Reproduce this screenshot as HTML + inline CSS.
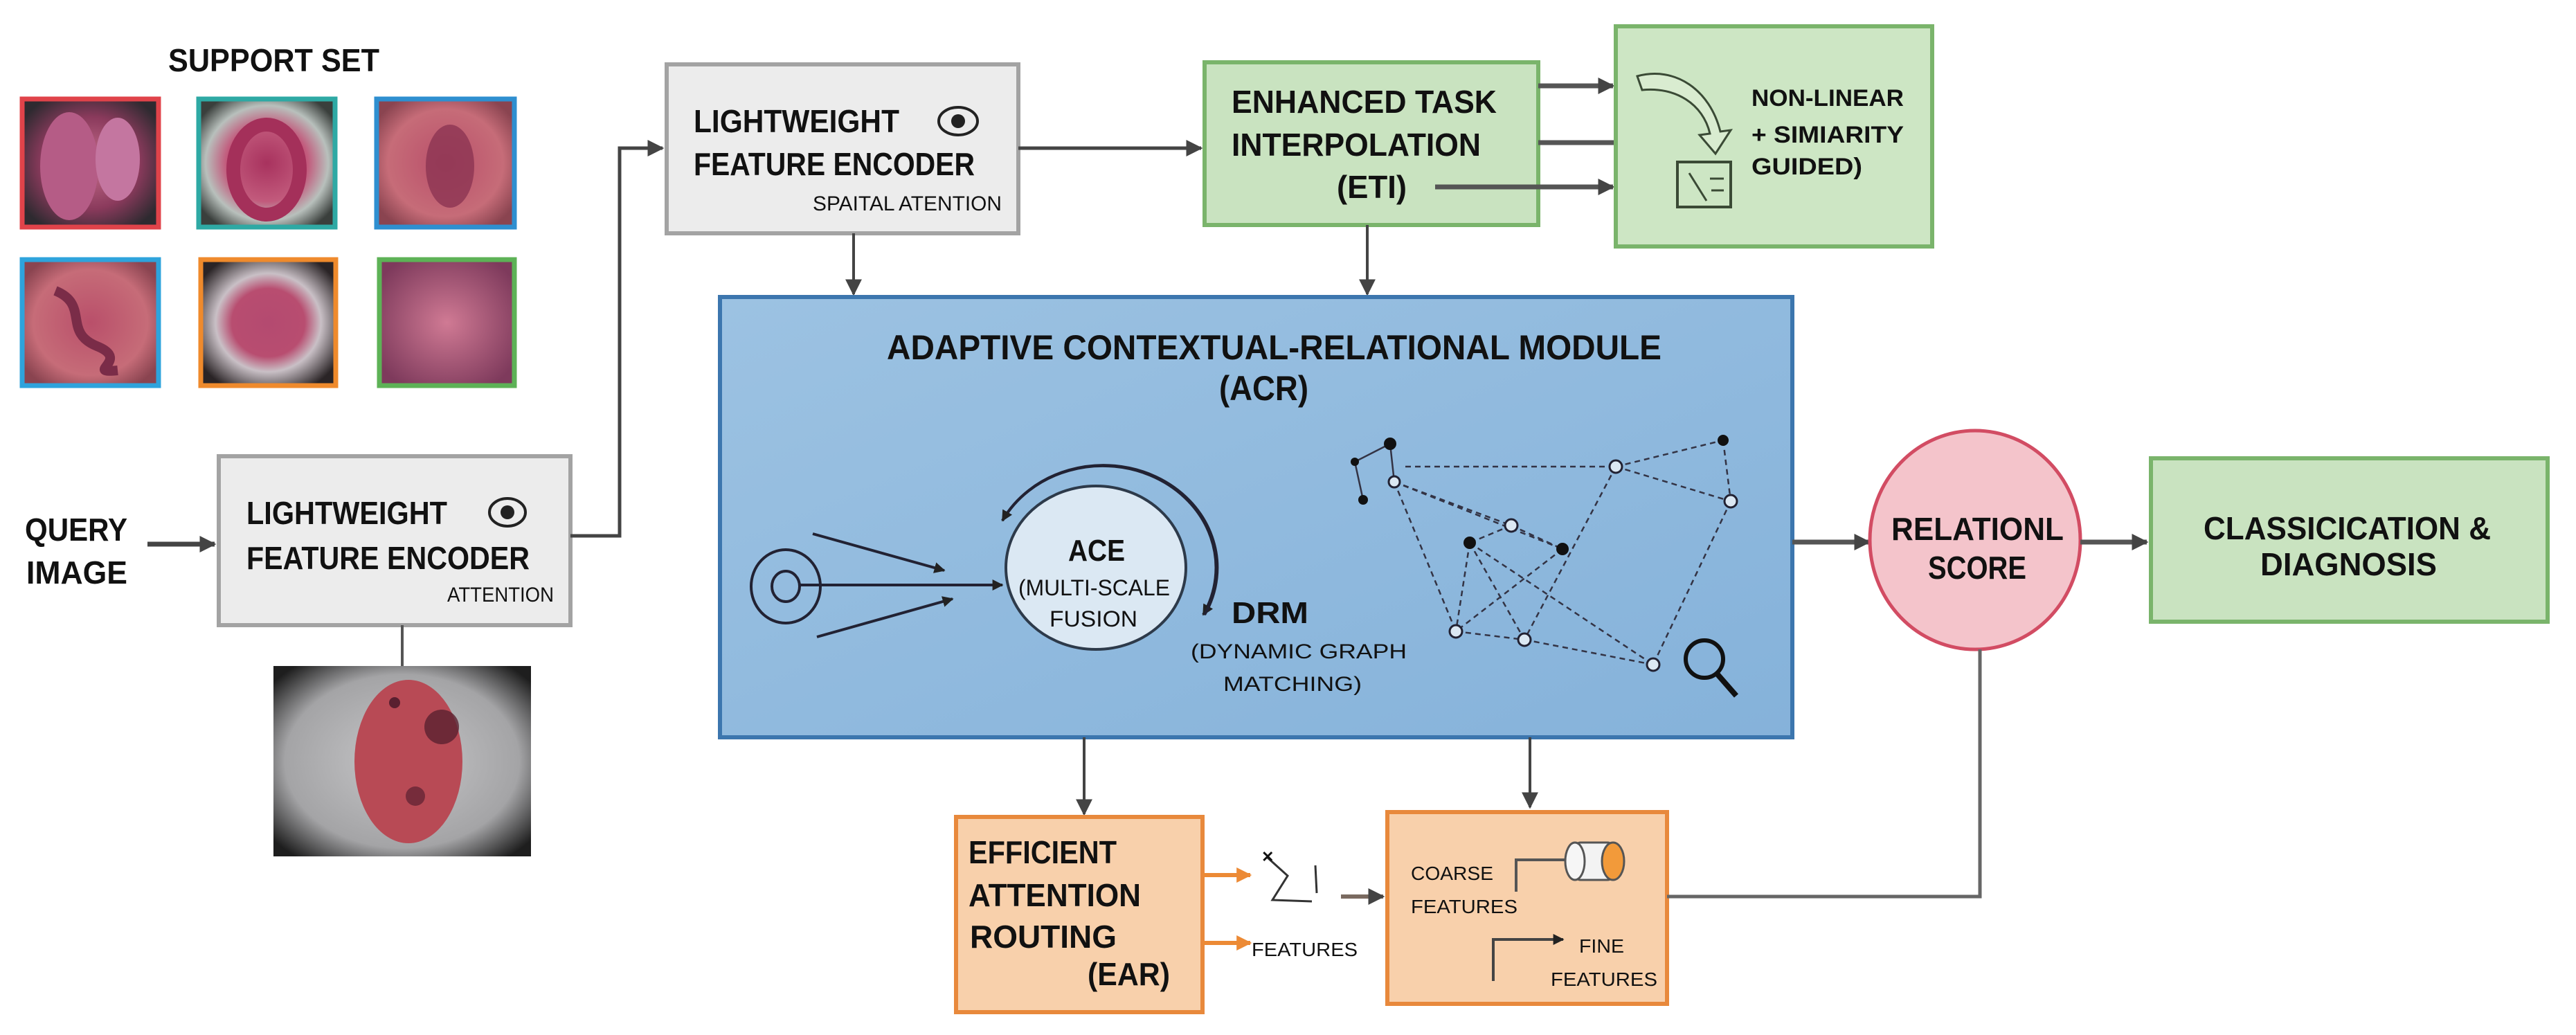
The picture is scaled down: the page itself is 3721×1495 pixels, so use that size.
<!DOCTYPE html>
<html><head><meta charset="utf-8"><style>html,body{margin:0;padding:0;background:#fff}svg{display:block}text{font-family:"Liberation Sans",sans-serif;fill:#111}</style></head><body>
<svg width="3721" height="1495" viewBox="0 0 3721 1495" xmlns="http://www.w3.org/2000/svg">
<defs>
<marker id="ah" viewBox="0 0 10 10" refX="9" refY="5" markerWidth="7" markerHeight="7" markerUnits="userSpaceOnUse" orient="auto"><path d="M0,0L10,5L0,10z" fill="#444"/></marker>
<marker id="a" viewBox="0 0 10 10" refX="9" refY="5" markerWidth="24" markerHeight="28" markerUnits="userSpaceOnUse" orient="auto"><path d="M0,0L10,5L0,10z" fill="#444"/></marker>
<marker id="as" viewBox="0 0 10 10" refX="9" refY="5" markerWidth="16" markerHeight="18" markerUnits="userSpaceOnUse" orient="auto"><path d="M0,0L10,5L0,10z" fill="#222"/></marker>
<marker id="ao" viewBox="0 0 10 10" refX="9" refY="5" markerWidth="22" markerHeight="26" markerUnits="userSpaceOnUse" orient="auto"><path d="M0,0L10,5L0,10z" fill="#ec8a35"/></marker>
<radialGradient id="t1" cx="50%" cy="50%" r="60%"><stop offset="0" stop-color="#c9708e"/><stop offset=".6" stop-color="#8a3a5c"/><stop offset="1" stop-color="#2e2a30"/></radialGradient>
<radialGradient id="t2" cx="50%" cy="50%" r="60%"><stop offset="0" stop-color="#a8325e"/><stop offset=".5" stop-color="#c25a7c"/><stop offset=".75" stop-color="#b8c0bc"/><stop offset="1" stop-color="#3a3f3c"/></radialGradient>
<radialGradient id="t3" cx="50%" cy="50%" r="60%"><stop offset="0" stop-color="#b94f6a"/><stop offset=".7" stop-color="#c66c78"/><stop offset="1" stop-color="#8a4450"/></radialGradient>
<radialGradient id="t5" cx="50%" cy="50%" r="60%"><stop offset="0" stop-color="#b44a70"/><stop offset=".45" stop-color="#b84d70"/><stop offset=".65" stop-color="#c9c0c6"/><stop offset="1" stop-color="#2a2426"/></radialGradient>
<radialGradient id="t6" cx="50%" cy="50%" r="60%"><stop offset="0" stop-color="#d07a94"/><stop offset="1" stop-color="#7e3a5c"/></radialGradient>
<radialGradient id="q" cx="50%" cy="50%" r="65%"><stop offset="0" stop-color="#c6c6c8"/><stop offset=".7" stop-color="#a4a4a6"/><stop offset="1" stop-color="#1e1e1e"/></radialGradient>
<linearGradient id="bl" x1="0" y1="0" x2="1" y2="1"><stop offset="0" stop-color="#9cc2e2"/><stop offset="1" stop-color="#85b2da"/></linearGradient>
</defs>

<!-- support set -->
<text x="243" y="103" font-size="46" font-weight="bold" textLength="305" lengthAdjust="spacingAndGlyphs">SUPPORT SET</text>
<rect x="32" y="143" width="197" height="185" fill="url(#t1)" stroke="#e0434a" stroke-width="7"/>
<ellipse cx="100" cy="240" rx="42" ry="78" fill="#b55c86"/><ellipse cx="170" cy="230" rx="32" ry="60" fill="#c476a0"/>
<rect x="287" y="143" width="197" height="185" fill="url(#t2)" stroke="#2ea9a4" stroke-width="7"/>
<ellipse cx="385" cy="245" rx="48" ry="65" fill="none" stroke="#a4305a" stroke-width="20"/>
<rect x="544" y="143" width="199" height="185" fill="url(#t3)" stroke="#2e8fd0" stroke-width="7"/>
<ellipse cx="650" cy="240" rx="35" ry="60" fill="#8c3552" opacity=".8"/>
<rect x="32" y="375" width="197" height="182" fill="url(#t3)" stroke="#2ea3dc" stroke-width="7"/>
<path d="M80,420 C130,440 90,480 140,500 S120,540 170,535" stroke="#7a2c48" stroke-width="14" fill="none"/>
<rect x="290" y="375" width="195" height="182" fill="url(#t5)" stroke="#ef8a2c" stroke-width="7"/>
<rect x="548" y="375" width="195" height="182" fill="url(#t6)" stroke="#5db256" stroke-width="7"/>

<!-- query -->
<text x="36" y="781" font-size="46" font-weight="bold" textLength="148" lengthAdjust="spacingAndGlyphs">QUERY</text>
<text x="38" y="843" font-size="46" font-weight="bold" textLength="146" lengthAdjust="spacingAndGlyphs">IMAGE</text>
<line x1="213" y1="786" x2="310" y2="786" stroke="#444" stroke-width="7" marker-end="url(#a)"/>
<rect x="316" y="659" width="508" height="244" fill="#ececec" stroke="#a3a3a3" stroke-width="6"/>
<text x="356" y="757" font-size="46" font-weight="bold" textLength="290" lengthAdjust="spacingAndGlyphs">LIGHTWEIGHT</text>
<text x="356" y="822" font-size="46" font-weight="bold" textLength="409" lengthAdjust="spacingAndGlyphs">FEATURE ENCODER</text>
<text x="646" y="869" font-size="30" textLength="154" lengthAdjust="spacingAndGlyphs">ATTENTION</text>
<ellipse cx="733" cy="740" rx="26" ry="20" fill="none" stroke="#222" stroke-width="4"/><circle cx="733" cy="740" r="10" fill="#222"/>
<polyline points="824,774 895,774 895,214 957,214" fill="none" stroke="#444" stroke-width="5" marker-end="url(#a)"/>
<line x1="581" y1="903" x2="581" y2="962" stroke="#555" stroke-width="4"/>
<rect x="395" y="962" width="372" height="275" fill="url(#q)"/>
<ellipse cx="590" cy="1100" rx="78" ry="118" fill="#b84a55"/>
<circle cx="638" cy="1050" r="25" fill="#5a2030" opacity=".8"/><circle cx="600" cy="1150" r="14" fill="#5a2030" opacity=".7"/><circle cx="570" cy="1015" r="8" fill="#5a2030"/>

<!-- top encoder -->
<rect x="963" y="93" width="508" height="244" fill="#ececec" stroke="#a3a3a3" stroke-width="6"/>
<text x="1002" y="191" font-size="46" font-weight="bold" textLength="297" lengthAdjust="spacingAndGlyphs">LIGHTWEIGHT</text>
<text x="1002" y="253" font-size="46" font-weight="bold" textLength="406" lengthAdjust="spacingAndGlyphs">FEATURE ENCODER</text>
<text x="1174" y="304" font-size="30" textLength="273" lengthAdjust="spacingAndGlyphs">SPAITAL ATENTION</text>
<ellipse cx="1384" cy="175" rx="28" ry="20" fill="none" stroke="#222" stroke-width="4"/><circle cx="1384" cy="175" r="10" fill="#222"/>
<line x1="1471" y1="214" x2="1735" y2="214" stroke="#444" stroke-width="5" marker-end="url(#a)"/>
<line x1="1233" y1="337" x2="1233" y2="425" stroke="#444" stroke-width="4" marker-end="url(#a)"/>

<!-- ETI -->
<rect x="1740" y="90" width="482" height="235" fill="#c9e3c0" stroke="#7ab46b" stroke-width="6"/>
<text x="1779" y="163" font-size="46" font-weight="bold" textLength="383" lengthAdjust="spacingAndGlyphs">ENHANCED TASK</text>
<text x="1779" y="225" font-size="46" font-weight="bold" textLength="360" lengthAdjust="spacingAndGlyphs">INTERPOLATION</text>
<text x="1931" y="286" font-size="46" font-weight="bold" textLength="101" lengthAdjust="spacingAndGlyphs">(ETI)</text>
<line x1="2222" y1="124" x2="2330" y2="124" stroke="#555" stroke-width="7" marker-end="url(#a)"/>
<line x1="2222" y1="206" x2="2332" y2="206" stroke="#555" stroke-width="7"/>
<line x1="2073" y1="270" x2="2330" y2="270" stroke="#555" stroke-width="7" marker-end="url(#a)"/>
<line x1="1975" y1="325" x2="1975" y2="425" stroke="#444" stroke-width="4" marker-end="url(#a)"/>
<rect x="2334" y="38" width="457" height="318" fill="#cde6c4" stroke="#7ab46b" stroke-width="6"/>
<path d="M2365,110 C2420,95 2470,130 2485,190 L2500,188 L2478,222 L2455,195 L2470,193 C2460,150 2420,125 2372,130 Z" fill="#d9ecd0" stroke="#3a4a35" stroke-width="3"/>
<rect x="2423" y="234" width="77" height="65" fill="none" stroke="#3a4a35" stroke-width="4"/>
<path d="M2440,250 L2465,290 M2470,258 L2490,258 M2472,275 L2490,275" stroke="#3a4a35" stroke-width="3"/>
<text x="2530" y="153" font-size="34" font-weight="bold" textLength="220" lengthAdjust="spacingAndGlyphs">NON-LINEAR</text>
<text x="2530" y="206" font-size="34" font-weight="bold" textLength="220" lengthAdjust="spacingAndGlyphs">+ SIMIARITY</text>
<text x="2530" y="252" font-size="34" font-weight="bold" textLength="160" lengthAdjust="spacingAndGlyphs">GUIDED)</text>

<!-- ACR -->
<rect x="1040" y="429" width="1549" height="636" fill="url(#bl)" stroke="#3c76ae" stroke-width="6"/>
<text x="1281" y="519" font-size="50" font-weight="bold" textLength="1119" lengthAdjust="spacingAndGlyphs">ADAPTIVE CONTEXTUAL-RELATIONAL MODULE</text>
<text x="1761" y="578" font-size="50" font-weight="bold" textLength="129" lengthAdjust="spacingAndGlyphs">(ACR)</text>
<ellipse cx="1135" cy="847" rx="50" ry="53" fill="none" stroke="#223" stroke-width="4"/>
<ellipse cx="1135" cy="847" rx="20" ry="22" fill="none" stroke="#223" stroke-width="4"/>
<line x1="1174" y1="771" x2="1364" y2="824" stroke="#223" stroke-width="4" marker-end="url(#as)"/>
<line x1="1156" y1="845" x2="1448" y2="845" stroke="#223" stroke-width="4" marker-end="url(#as)"/>
<line x1="1180" y1="920" x2="1376" y2="865" stroke="#223" stroke-width="4" marker-end="url(#as)"/>
<path d="M1448,752 A150,135 0 0 1 1738,888" fill="none" stroke="#223" stroke-width="4" marker-end="url(#as)"/>
<path d="M1740,888 A150,135 0 0 0 1448,752" fill="none" stroke="#223" stroke-width="4" marker-end="url(#as)"/>
<ellipse cx="1583" cy="820" rx="130" ry="118" fill="#dbe8f3" stroke="#2d3a4a" stroke-width="4"/>
<text x="1543" y="810" font-size="44" font-weight="bold" textLength="82" lengthAdjust="spacingAndGlyphs">ACE</text>
<text x="1471" y="860" font-size="32" textLength="219" lengthAdjust="spacingAndGlyphs">(MULTI-SCALE</text>
<text x="1516" y="905" font-size="32" textLength="127" lengthAdjust="spacingAndGlyphs">FUSION</text>
<text x="1779" y="900" font-size="44" font-weight="bold" textLength="111" lengthAdjust="spacingAndGlyphs">DRM</text>
<text x="1720" y="951" font-size="30" textLength="312" lengthAdjust="spacingAndGlyphs">(DYNAMIC GRAPH</text>
<text x="1767" y="998" font-size="30" textLength="200" lengthAdjust="spacingAndGlyphs">MATCHING)</text>
<g stroke="#334" stroke-width="2.5" fill="none">
<path d="M2008,641L1957,667L1969,722 M2008,641L2014,696"/>
<g stroke-dasharray="8,6">
<path d="M2030,674L2334,674 M2334,674L2489,636 M2334,674L2500,724 M2489,636L2500,724 M2014,696L2183,759 M2014,696L2257,793 M2183,759L2123,784 M2183,759L2257,793 M2123,784L2103,912 M2123,784L2202,924 M2257,793L2103,912 M2334,674L2202,924 M2500,724L2388,960 M2103,912L2202,924 M2202,924L2388,960 M2123,784L2388,960 M2014,696L2103,912"/>
</g></g>
<g fill="#111"><circle cx="2008" cy="641" r="9"/><circle cx="1957" cy="667" r="6"/><circle cx="1969" cy="722" r="7"/><circle cx="2489" cy="636" r="8"/><circle cx="2123" cy="784" r="9"/><circle cx="2257" cy="793" r="9"/></g>
<g fill="#dbe8f3" stroke="#223" stroke-width="3"><circle cx="2014" cy="696" r="8"/><circle cx="2334" cy="674" r="9"/><circle cx="2500" cy="724" r="9"/><circle cx="2183" cy="759" r="9"/><circle cx="2103" cy="912" r="9"/><circle cx="2202" cy="924" r="9"/><circle cx="2388" cy="960" r="9"/></g>
<circle cx="2462" cy="952" r="27" fill="none" stroke="#111" stroke-width="6"/>
<line x1="2480" y1="973" x2="2508" y2="1005" stroke="#111" stroke-width="8"/>

<!-- score / classification -->
<line x1="2589" y1="783" x2="2700" y2="783" stroke="#555" stroke-width="7" marker-end="url(#a)"/>
<ellipse cx="2853" cy="780" rx="152" ry="158" fill="#f4c4cb" stroke="#d24c63" stroke-width="5"/>
<text x="2732" y="780" font-size="46" font-weight="bold" textLength="249" lengthAdjust="spacingAndGlyphs">RELATIONL</text>
<text x="2785" y="836" font-size="46" font-weight="bold" textLength="142" lengthAdjust="spacingAndGlyphs">SCORE</text>
<line x1="3005" y1="783" x2="3101" y2="783" stroke="#555" stroke-width="7" marker-end="url(#a)"/>
<rect x="3107" y="662" width="573" height="236" fill="#c9e3c0" stroke="#7ab46b" stroke-width="6"/>
<text x="3183" y="779" font-size="46" font-weight="bold" textLength="415" lengthAdjust="spacingAndGlyphs">CLASSICICATION &amp;</text>
<text x="3265" y="831" font-size="46" font-weight="bold" textLength="255" lengthAdjust="spacingAndGlyphs">DIAGNOSIS</text>

<!-- EAR -->
<line x1="1566" y1="1065" x2="1566" y2="1176" stroke="#444" stroke-width="4" marker-end="url(#a)"/>
<rect x="1381" y="1180" width="356" height="282" fill="#f8d0ab" stroke="#e8893c" stroke-width="6"/>
<text x="1399" y="1247" font-size="46" font-weight="bold" textLength="214" lengthAdjust="spacingAndGlyphs">EFFICIENT</text>
<text x="1399" y="1309" font-size="46" font-weight="bold" textLength="249" lengthAdjust="spacingAndGlyphs">ATTENTION</text>
<text x="1401" y="1369" font-size="46" font-weight="bold" textLength="212" lengthAdjust="spacingAndGlyphs">ROUTING</text>
<text x="1571" y="1423" font-size="46" font-weight="bold" textLength="119" lengthAdjust="spacingAndGlyphs">(EAR)</text>
<line x1="1737" y1="1264" x2="1806" y2="1264" stroke="#ec8a35" stroke-width="6" marker-end="url(#ao)"/>
<line x1="1737" y1="1362" x2="1806" y2="1362" stroke="#ec8a35" stroke-width="6" marker-end="url(#ao)"/>
<path d="M1830,1238 L1860,1265 L1838,1300 L1895,1302 M1900,1250 L1902,1290" stroke="#333" stroke-width="3" fill="none"/>
<text x="1822" y="1245" font-size="22" font-weight="bold">✕</text>
<text x="1808" y="1381" font-size="28" textLength="153" lengthAdjust="spacingAndGlyphs">FEATURES</text>
<line x1="1937" y1="1295" x2="1998" y2="1295" stroke="#7a6a60" stroke-width="6" marker-end="url(#a)"/>

<!-- coarse/fine -->
<line x1="2210" y1="1065" x2="2210" y2="1166" stroke="#444" stroke-width="4" marker-end="url(#a)"/>
<rect x="2004" y="1173" width="404" height="277" fill="#f8d0ab" stroke="#e8893c" stroke-width="6"/>
<text x="2038" y="1271" font-size="28" textLength="119" lengthAdjust="spacingAndGlyphs">COARSE</text>
<text x="2038" y="1319" font-size="28" textLength="154" lengthAdjust="spacingAndGlyphs">FEATURES</text>
<polyline points="2190,1288 2190,1242 2268,1242" fill="none" stroke="#555" stroke-width="4"/>
<rect x="2275" y="1217" width="55" height="54" rx="8" fill="#f3f3f3" stroke="#555" stroke-width="3"/>
<ellipse cx="2330" cy="1244" rx="16" ry="27" fill="#f29a3a" stroke="#555" stroke-width="3"/>
<ellipse cx="2275" cy="1244" rx="14" ry="27" fill="#f6f6f6" stroke="#555" stroke-width="3"/>
<polyline points="2157,1417 2157,1357 2258,1357" fill="none" stroke="#444" stroke-width="4" marker-end="url(#as)"/>
<text x="2281" y="1376" font-size="28" textLength="65" lengthAdjust="spacingAndGlyphs">FINE</text>
<text x="2240" y="1424" font-size="28" textLength="154" lengthAdjust="spacingAndGlyphs">FEATURES</text>
<polyline points="2408,1295 2860,1295 2860,938" fill="none" stroke="#666" stroke-width="5"/>
</svg>
</body></html>
